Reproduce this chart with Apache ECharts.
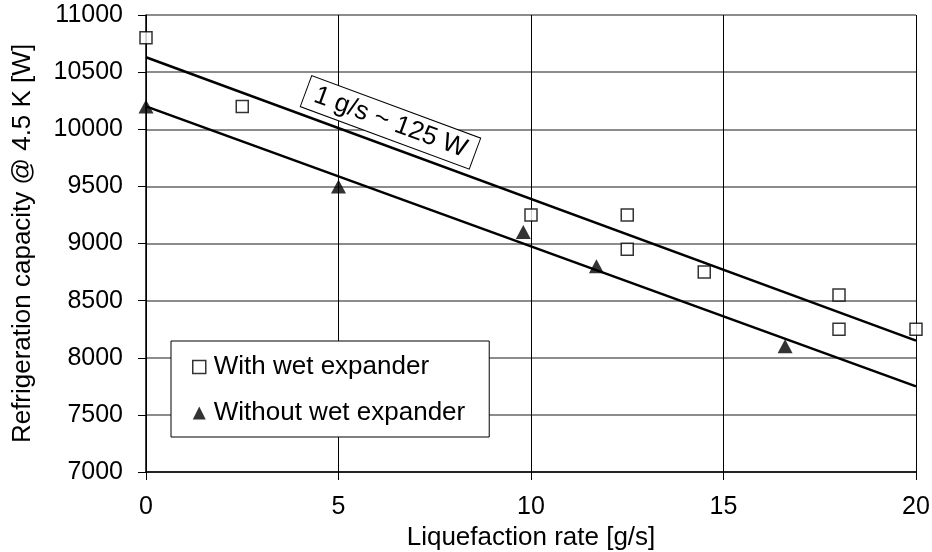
<!DOCTYPE html>
<html>
<head>
<meta charset="utf-8">
<script src="https://cdn.jsdelivr.net/npm/echarts@6/dist/echarts.min.js"></script>
<style>
    html, body { margin: 0; padding: 0; background: #fff; }
    #chart { width: 932px; height: 552px; }
</style>
</head>
<body>
<div id="chart"></div>
<script>
// measured points [liquefaction rate g/s, capacity W]
const withWet = [
    [0, 10800], [2.5, 10200], [10, 9250], [12.5, 9250], [12.5, 8950],
    [14.5, 8750], [18, 8550], [18, 8250], [20, 8250]
]
const withoutWet = [
    [0, 10200], [5, 9500], [9.8, 9100], [11.7, 8800], [16.6, 8100]
]
// trend lines drawn in the figure (end points)
const fitWith = [[0, 10630], [20, 8150]]
const fitWithout = [[0, 10200], [20, 7750]]

const seriesNames = ['With wet expander', 'Without wet expander']
const xTicks = [0, 5, 10, 15, 20]
const yTicks = [7000, 7500, 8000, 8500, 9000, 9500, 10000, 10500, 11000]
const noteText = '1 g/s ~ 125 W'
const notePos = [6.35, 10060]

const font = "'Liberation Sans', Arial, sans-serif"

const chart = echarts.init(document.getElementById('chart'))

const option = {
    animation: false,
    textStyle: { fontFamily: font, color: '#000' },
    grid: { left: 146, right: 16, top: 15, bottom: 80, containLabel: false, outerBoundsMode: 'none' },
    xAxis: {
        type: 'value',
        min: xTicks[0],
        max: xTicks[xTicks.length - 1],
        interval: 5,
        name: 'Liquefaction rate [g/s]',
        nameLocation: 'middle',
        nameGap: 48,
        nameTextStyle: { fontSize: 26, color: '#000', fontFamily: font },
        axisLine: { lineStyle: { color: '#000', width: 1.5 } },
        axisTick: { show: true, length: 8, lineStyle: { color: '#000' } },
        axisLabel: { fontSize: 25, color: '#000', margin: 23, fontFamily: font },
        splitLine: { show: true, lineStyle: { color: '#000', width: 1 } }
    },
    yAxis: {
        type: 'value',
        min: yTicks[0],
        max: yTicks[yTicks.length - 1],
        interval: 500,
        name: 'Refrigeration capacity @ 4.5 K [W]',
        nameLocation: 'middle',
        nameGap: 110,
        nameTextStyle: { fontSize: 26, color: '#000', fontFamily: font },
        axisLine: { show: true, lineStyle: { color: '#000', width: 1.5 } },
        axisTick: { show: true, length: 8, lineStyle: { color: '#000' } },
        axisLabel: {
            fontSize: 25, color: '#000', margin: 23, fontFamily: font,
            formatter: v => String(v)
        },
        splitLine: { show: true, lineStyle: { color: '#666', width: 1.5 } }
    },
    legend: {
        data: [
            { name: seriesNames[0], itemStyle: { borderWidth: 1.5 } },
            { name: seriesNames[1] }
        ],
        orient: 'vertical',
        left: 171,
        top: 341,
        padding: [13, 24, 11, 21],
        itemGap: 20,
        itemWidth: 13,
        itemHeight: 13,
        backgroundColor: '#fff',
        borderColor: '#000',
        borderWidth: 1,
        textStyle: { fontSize: 26, color: '#000', fontFamily: font, padding: [0, 0, 0, 3] }
    },
    series: [
        {
            type: 'line',
            data: fitWith,
            symbol: 'none',
            lineStyle: { color: '#000', width: 2.5 },
            z: 2
        },
        {
            type: 'line',
            data: fitWithout,
            symbol: 'none',
            lineStyle: { color: '#000', width: 2.5 },
            z: 2
        },
        {
            name: seriesNames[0],
            type: 'scatter',
            data: withWet,
            symbol: 'rect',
            symbolSize: 12,
            itemStyle: { color: '#fff', borderColor: '#000', borderWidth: 1.5 },
            z: 3
        },
        {
            name: seriesNames[1],
            type: 'scatter',
            data: withoutWet,
            symbol: 'triangle',
            symbolSize: [15, 14],
            itemStyle: { color: '#000' },
            z: 3
        }
    ]
}

chart.setOption(option)

// rotated annotation box
const p = chart.convertToPixel({ gridIndex: 0 }, notePos)
chart.setOption({
    graphic: [{
        type: 'text',
        x: p[0],
        y: p[1],
        rotation: -20.3 * Math.PI / 180,
        z: 10,
        style: {
            text: noteText,
            font: '26px ' + font,
            fill: '#000',
            align: 'center',
            verticalAlign: 'middle',
            backgroundColor: '#fff',
            borderColor: '#000',
            borderWidth: 1,
            padding: [3, 9, 3, 9]
        }
    }]
})
</script>
</body>
</html>
